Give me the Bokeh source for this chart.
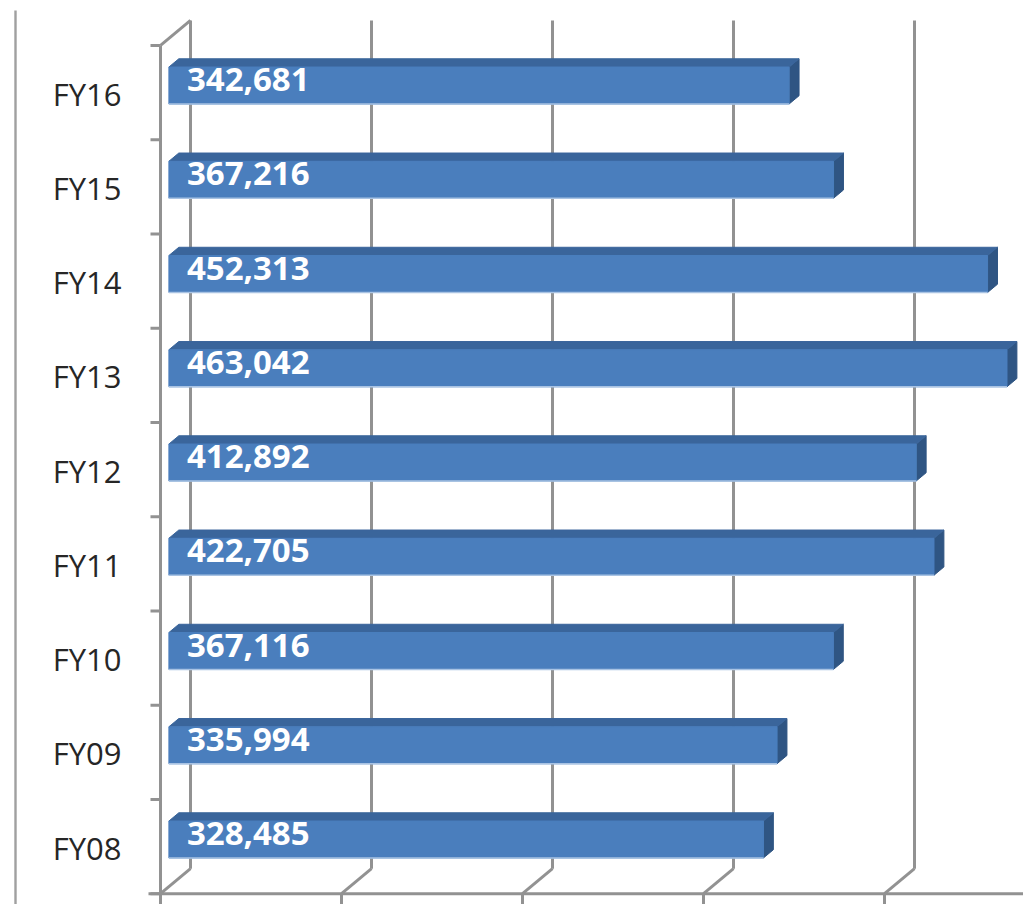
import numpy as np
from bokeh.plotting import figure
from bokeh.models import Range1d, ColumnDataSource
from bokeh.core.properties import value
from bokeh.embed import file_html
from bokeh.resources import INLINE

# ---- data ----
categories = ["FY08", "FY09", "FY10", "FY11", "FY12", "FY13", "FY14", "FY15", "FY16"]
values = [328485, 335994, 367116, 422705, 412892, 463042, 452313, 367216, 342681]
grid_values = [0, 100000, 200000, 300000, 400000, 500000]

# ---- geometry (pixel scale of the canvas) ----
W, H = 1023, 904
PX = 0.00181             # pixels per value unit
CAT_PX = 94.25           # pixels per category
X_START = -160 / PX
X_END = X_START + W / PX
Y_START = -58 / CAT_PX
Y_END = Y_START + H / CAT_PX
DX = 30 / PX             # oblique depth offset (value units)
DY = 25 / CAT_PX         # oblique depth offset (category units)
Z1, Z2 = 0.28, 0.61      # bar depth span
HH = 0.196               # half bar height (category units)
LO, HI = -0.5, len(categories) - 0.5

def proj(x, y, z):
    return x + z * DX, y + z * DY

p = figure(width=W, height=H, x_range=Range1d(X_START, X_END), y_range=Range1d(Y_START, Y_END),
           x_axis_location=None, y_axis_location=None, toolbar_location=None,
           output_backend="svg", min_border=0)
p.grid.visible = False
p.outline_line_color = None
p.background_fill_color = "white"
p.border_fill_color = "white"

GRAY = "#929292"
LW = 3

# outer chart border (left)
bx = X_START + 15 / PX
p.segment(x0=[bx], y0=[Y_START], x1=[bx], y1=[Y_END - 10 / CAT_PX], line_color="#a0a0a0", line_width=2.4)

# back-wall gridlines and floor diagonals
gxs, gys = [], []
for v in grid_values:
    a = proj(v, LO, 1); b = proj(v, HI, 1)
    gxs.append([a[0], b[0]]); gys.append([a[1], b[1]])
    c = proj(v, LO, 0)
    gxs.append([c[0], a[0]]); gys.append([c[1], a[1]])
    # tick below floor front
    gxs.append([c[0], c[0]]); gys.append([c[1], c[1] - 14 / CAT_PX])
# floor front line
f0 = proj(0, LO, 0)
gxs.append([f0[0] - 12 / PX, X_END]); gys.append([f0[1], f0[1]])
# left wall front edge, top diagonal
t0 = proj(0, HI, 0); t1 = proj(0, HI, 1)
gxs.append([f0[0], t0[0]]); gys.append([f0[1], t0[1]])
gxs.append([t0[0], t1[0]]); gys.append([t0[1], t1[1]])
# category ticks on left wall
for k in range(len(categories) + 1):
    y = LO + k
    gxs.append([-10 / PX, 0]); gys.append([y, y])
p.multi_line(xs=gxs, ys=gys, line_color=GRAY, line_width=LW)

# ---- bars ----
front_x, front_y, top_x, top_y, side_x, side_y = [], [], [], [], [], []
edge_x, edge_y = [], []
for i, v in enumerate(values):
    c = i
    pts = [proj(0, c - HH, Z1), proj(v, c - HH, Z1), proj(v, c + HH, Z1), proj(0, c + HH, Z1)]
    front_x.append([q[0] for q in pts]); front_y.append([q[1] for q in pts])
    pts = [proj(0, c + HH, Z1), proj(v, c + HH, Z1), proj(v, c + HH, Z2), proj(0, c + HH, Z2)]
    top_x.append([q[0] for q in pts]); top_y.append([q[1] for q in pts])
    pts = [proj(v, c - HH, Z1), proj(v, c - HH, Z2), proj(v, c + HH, Z2), proj(v, c + HH, Z1)]
    side_x.append([q[0] for q in pts]); side_y.append([q[1] for q in pts])
    a = proj(0, c - HH, Z1); b = proj(v, c - HH, Z1)
    edge_x.append([a[0], b[0]]); edge_y.append([a[1], b[1]])

p.patches(xs=side_x, ys=side_y, fill_color="#2f5583", line_color="#2f5583", line_width=1)
p.patches(xs=top_x, ys=top_y, fill_color="#3a659b", line_color="#3a659b", line_width=1)
p.patches(xs=front_x, ys=front_y, fill_color="#4a7ebd", line_color="#4a7ebd", line_width=1)
p.multi_line(xs=edge_x, ys=edge_y, line_color="#a9c3e3", line_width=1.5)

# ---- labels ----
lab = ColumnDataSource(dict(
    x=[proj(0, i, Z1)[0] for i in range(len(values))],
    y=[proj(0, i, Z1)[1] for i in range(len(values))],
    t=[f"{v:,}" for v in values],
))
p.text(x="x", y="y", text="t", source=lab, text_color="white", text_font=value("Open Sans"),
       text_font_style="bold", text_font_size="33px", text_align="left", text_baseline="middle",
       x_offset=18, y_offset=-6)

cat = ColumnDataSource(dict(x=[0] * len(categories), y=list(range(len(categories))), t=categories))
p.text(x="x", y="y", text="t", source=cat, text_color="#262626", text_font=value("Open Sans"),
       text_font_size="31px", text_align="right", text_baseline="middle", x_offset=-39, y_offset=1)

open("out.html", "w").write(file_html(p, INLINE))
